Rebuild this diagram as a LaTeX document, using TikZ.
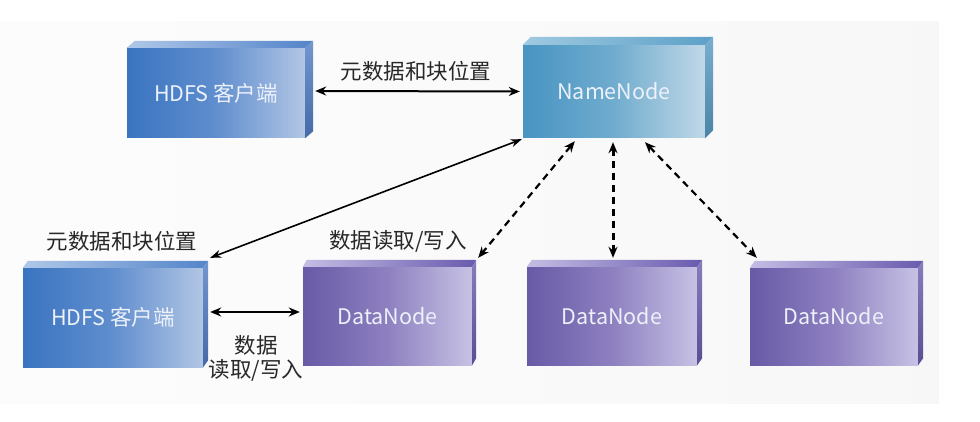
\documentclass[tikz,border=0pt]{standalone}
\usepackage{fontspec}
\setmainfont{Noto Sans CJK SC}
\usetikzlibrary{arrows.meta}
\definecolor{hdA}{RGB}{58,116,192}
\definecolor{hdB}{RGB}{96,142,206}
\definecolor{hdC}{RGB}{178,198,228}
\definecolor{hdTL}{RGB}{176,200,232}
\definecolor{hdTR}{RGB}{84,132,202}
\definecolor{hdS}{RGB}{80,124,196}
\definecolor{nnA}{RGB}{72,148,194}
\definecolor{nnB}{RGB}{112,172,206}
\definecolor{nnC}{RGB}{192,216,232}
\definecolor{nnTL}{RGB}{160,202,224}
\definecolor{nnTR}{RGB}{92,160,200}
\definecolor{nnS}{RGB}{88,154,196}
\definecolor{dnA}{RGB}{104,90,166}
\definecolor{dnB}{RGB}{142,128,192}
\definecolor{dnC}{RGB}{198,194,228}
\definecolor{dnTL}{RGB}{196,190,228}
\definecolor{dnTR}{RGB}{106,90,174}
\definecolor{dnS}{RGB}{106,92,172}
\definecolor{lbl}{RGB}{40,40,40}
\definecolor{boxtext}{RGB}{236,241,250}
\tikzset{
  cube/.style={rectangle, inner sep=0pt, text=boxtext, font=\fontsize{21.5}{24}\selectfont},
  hdfs/.style={cube, left color=hdA, right color=hdC, middle color=hdB},
  namen/.style={cube, left color=nnA, right color=nnC, middle color=nnB},
  datan/.style={cube, left color=dnA, right color=dnC, middle color=dnB},
  lab/.style={text=lbl, font=\fontsize{21.5}{24}\selectfont, inner sep=0pt},
  solidarrow/.style={line width=2pt, {Stealth[length=11pt,width=9pt]}-{Stealth[length=11pt,width=9pt]}},
  thinarrow/.style={line width=1.6pt, {Stealth[length=11pt,width=8pt]}-{Stealth[length=11pt,width=8pt]}},
  dasharrow/.style={line width=2.2pt, dash pattern=on 7pt off 5pt, {Stealth[length=11pt,width=9pt]}-{Stealth[length=11pt,width=9pt]}},
}
% faces: name, top-left col, top-right col, side col, dx, dy
\newcommand\cubefaces[6]{%
  \shade[left color=#2, right color=#3] (#1.north west) -- ++(#5,-#6) -- ([shift={(#5,-#6)}]#1.north east) -- (#1.north east) -- cycle;
  \shade[top color=#4!80!white, bottom color=#4!85!black] (#1.north east) -- ++(#5,-#6) -- ([shift={(#5,-#6)}]#1.south east) -- (#1.south east) -- cycle;
}
\begin{document}
\begin{tikzpicture}[x=1pt,y=-1pt]
\useasboundingbox (0,0) rectangle (980,422);
\fill[white] (0,0) rectangle (980,422);
\shade[left color=white!99!black, right color=white!97!black] (0,22) rectangle (939,403);

\node[hdfs, minimum width=178pt, minimum height=90pt] (c1) at (216,93) {HDFS 客户端};
\node[namen, minimum width=182pt, minimum height=93pt] (nn) at (614,91.5) {NameNode};
\node[hdfs, minimum width=180pt, minimum height=99pt] (c2) at (113,317.5) {HDFS 客户端};
\node[datan, minimum width=169pt, minimum height=98pt] (d1) at (387.5,316) {DataNode};
\node[datan, minimum width=170pt, minimum height=98pt] (d2) at (612,316) {DataNode};
\node[datan, minimum width=168pt, minimum height=97pt] (d3) at (834,316.5) {DataNode};

\cubefaces{c1}{hdTL}{hdTR}{hdS}{8}{7}
\cubefaces{nn}{nnTL}{nnTR}{nnS}{8}{8}
\cubefaces{c2}{hdTL}{hdTR}{hdS}{5}{7}
\cubefaces{d1}{dnTL}{dnTR}{dnS}{4}{7}
\cubefaces{d2}{dnTL}{dnTR}{dnS}{5}{7}
\cubefaces{d3}{dnTL}{dnTR}{dnS}{5}{7}

\node[lab] (l1) at (416,71) {元数据和块位置};
\node[lab] (l2) at (122,241) {元数据和块位置};
\node[lab] (l3) at (398,241) {数据读取/写入};
\node[lab] (l4) at (256,345) {数据};
\node[lab] (l5) at (256,370) {读取/写入};

\draw[solidarrow] ([shift={(10,-2)}]c1.east) -- ([shift={(-3,0)}]nn.west);
\draw[thinarrow] ([shift={(7,-10)}]c2.north east) -- ([shift={(-1,1)}]nn.south west);
\draw[dasharrow] ([shift={(52,3)}]nn.south west) -- ([shift={(6,-9)}]d1.north east);
\draw[dasharrow, line width=3pt] ([shift={(-1,4)}]nn.south) -- ([shift={(1,-9)}]d2.north);
\draw[dasharrow] ([shift={(31,4)}]nn.south) -- ([shift={(7,-10)}]d3.north west);
\draw[solidarrow] ([shift={(7,-5.5)}]c2.east) -- ([shift={(-3,-4)}]d1.west);
\end{tikzpicture}
\end{document}
